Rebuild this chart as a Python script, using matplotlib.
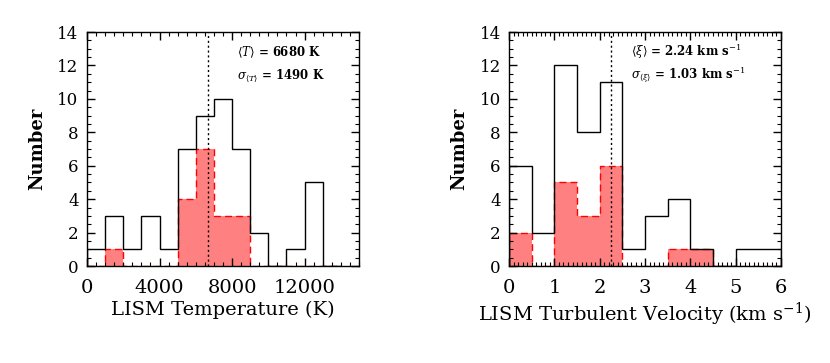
import matplotlib
matplotlib.use('Agg')
import matplotlib.pyplot as plt
from matplotlib.ticker import MultipleLocator
import numpy as np

# temperature histogram (bins of 1000 K)
temp_edges = np.arange(0, 15000, 1000)
temp_all = [1, 3, 1, 3, 1, 7, 9, 10, 7, 2, 0, 1, 5, 0]
temp_sub = [0, 1, 0, 0, 0, 4, 7, 3, 3, 0, 0, 0, 0, 0]
temp_mean = 6680
temp_txt = [r'$\langle T\rangle$ = 6680 K', r'$\sigma_{\langle T\rangle}$ = 1490 K']

# turbulent velocity histogram (bins of 0.5 km/s)
vel_edges = np.arange(0, 6.5, 0.5)
vel_all = [6, 2, 12, 8, 11, 1, 3, 4, 1, 0, 1, 1]
vel_sub = [2, 0, 5, 3, 6, 0, 0, 1, 1, 0, 0, 0]
vel_mean = 2.24
vel_txt = [r'$\langle \xi\rangle$ = 2.24 km s$^{-1}$',
           r'$\sigma_{\langle \xi\rangle}$ = 1.03 km s$^{-1}$']

plt.rcParams['font.family'] = 'DejaVu Serif'
plt.rcParams['mathtext.fontset'] = 'dejavuserif'

fig = plt.figure(figsize=(8.3, 3.63), dpi=100)
ax1 = fig.add_axes([0.1048, 0.2672, 0.3277, 0.6446])
ax2 = fig.add_axes([0.6133, 0.2672, 0.3277, 0.6446])


def draw(ax, edges, allv, sub, mean, txt, xmax, xmaj, xmin, xlabel, tx):
    e_all = np.append(edges[:len(allv)], edges[len(allv) - 1] + (edges[1] - edges[0]))
    ax.stairs(sub, e_all, fill=True, color='#ff8080', lw=0)
    ax.stairs(sub, e_all, color='red', ls=(0, (5, 3)), lw=1.0)
    ax.stairs(allv, e_all, color='black', lw=1.0)
    ax.axvline(mean, color='black', ls=(0, (1.5, 2)), lw=1.0)
    ax.set_xlim(0, xmax)
    ax.set_ylim(0, 14)
    ax.xaxis.set_major_locator(MultipleLocator(xmaj))
    ax.xaxis.set_minor_locator(MultipleLocator(xmin))
    ax.yaxis.set_major_locator(MultipleLocator(2))
    ax.yaxis.set_minor_locator(MultipleLocator(0.5))
    ax.tick_params(which='both', direction='in', top=True, right=True)
    ax.tick_params(which='major', length=6, width=1.0, labelsize=12, pad=6)
    ax.tick_params(which='minor', length=3, width=0.8)
    ax.tick_params(axis='x', pad=9, labelsize=14)
    for s in ax.spines.values():
        s.set_linewidth(1.0)
    ax.set_xlabel(xlabel, fontsize=14, labelpad=3)
    ax.set_ylabel('Number', fontsize=13, fontweight='bold', labelpad=8)
    ax.text(tx, 0.915, txt[0], transform=ax.transAxes, fontsize=8.5,
            fontweight='bold', va='center')
    ax.text(tx, 0.815, txt[1], transform=ax.transAxes, fontsize=8.5,
            fontweight='bold', va='center')


draw(ax1, temp_edges, temp_all, temp_sub, temp_mean, temp_txt, 15000, 4000, 500,
     'LISM Temperature (K)', 0.55)
draw(ax2, vel_edges, vel_all, vel_sub, vel_mean, vel_txt, 6, 1, 0.1,
     r'LISM Turbulent Velocity (km s$^{-1}$)', 0.45)

fig.savefig('out.png', dpi=100)
